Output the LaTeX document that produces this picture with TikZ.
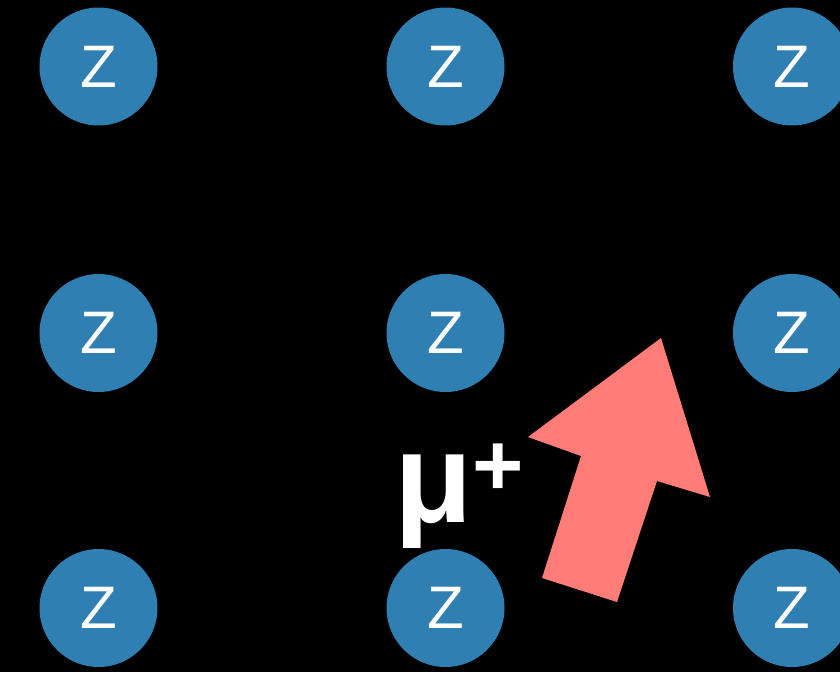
\documentclass[tikz,border=0pt]{standalone}
\usepackage{fontspec}
\setmainfont{Liberation Sans}
\usepackage{tikz}
\usetikzlibrary{positioning}
\definecolor{atomblue}{RGB}{47,127,178}
\definecolor{muonred}{RGB}{255,124,120}

\begin{document}
\begin{tikzpicture}[x=1pt,y=-1pt,
  atom/.style={circle, fill=atomblue, minimum size=118pt, inner sep=0pt,
               text=white, font=\fontsize{60}{60}\selectfont},
  muon/.style={text=white, inner sep=0pt, font=\bfseries\fontsize{128}{128}\selectfont},
  beam/.style={fill=muonred}
]
\fill[black] (0,0) rectangle (840,672);
\useasboundingbox (0,0) rectangle (840,672);

\node[atom] (z11) at ( 98.5, 66.5) {Z};
\node[atom] (z12) at (445.5, 66.5) {Z};
\node[atom] (z13) at (792,   66.5) {Z};
\node[atom] (z21) at ( 98.5,333)   {Z};
\node[atom] (z22) at (445.5,333)   {Z};
\node[atom] (z23) at (792,  333)   {Z};
\node[atom] (z31) at ( 98.5,608)   {Z};
\node[atom] (z32) at (445.5,608)   {Z};
\node[atom] (z33) at (792,  608)   {Z};

\node[muon, anchor=base west] (mu) at (394,522)
  {μ\raisebox{27pt}{\fontsize{88}{88}\selectfont +}};

% incoming muon
\fill[beam] (661,338) -- (710,497) -- (657,481) -- (617,602)
  -- (542,578) -- (581,456) -- (528,437) -- cycle;
\end{tikzpicture}
\end{document}
